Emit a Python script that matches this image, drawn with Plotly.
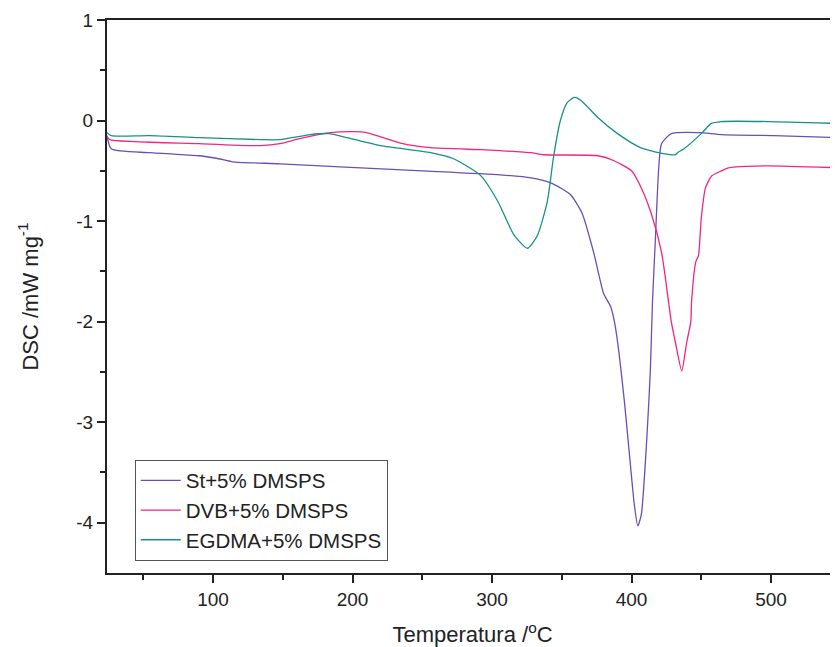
import plotly.graph_objects as go

# St+5% DMSPS
st_T = [24, 27, 54.5, 90, 95.4, 104, 114, 148, 191, 250, 306, 328, 342, 349, 356.5, 364.5, 373, 380, 385, 388,
        391, 395, 398.5, 402, 404.5, 407, 411, 413.5, 415, 417, 419.5, 421.5, 428.5, 448, 464.5, 502, 549]
st_V = [-0.15, -0.28, -0.32, -0.35, -0.36, -0.38, -0.41, -0.43, -0.46, -0.50, -0.54, -0.57, -0.62, -0.67, -0.74, -0.92, -1.32, -1.72, -1.85, -2.02,
        -2.31, -2.81, -3.32, -3.82, -4.03, -3.92, -3.15, -2.48, -1.81, -1.21, -0.47, -0.23, -0.13, -0.12, -0.14, -0.15, -0.17]

# DVB+5% DMSPS
dvb_T = [24, 26, 90, 134, 148, 162, 184, 200.5, 210, 236, 256, 292, 306, 328, 337, 376, 387.5, 400, 407, 414, 421.5,
         426.6, 428.5, 431.5, 436, 439.5, 442.5, 443, 446, 448, 450, 453, 457.5, 464.5, 469.5, 495, 549]
dvb_V = [-0.16, -0.19, -0.23, -0.25, -0.23, -0.18, -0.12, -0.11, -0.12, -0.23, -0.27, -0.29, -0.30, -0.32, -0.34, -0.35, -0.40, -0.50, -0.67, -0.92, -1.31,
         -1.81, -2.0, -2.21, -2.49, -2.21, -2.0, -1.81, -1.41, -1.34, -0.97, -0.67, -0.55, -0.50, -0.47, -0.45, -0.47]

# EGDMA+5% DMSPS
eg_T = [24, 27, 54.5, 90, 134, 148, 169.6, 183, 196, 220, 256, 272.5, 292, 304, 315.8, 325.5, 332.6, 339.7, 344, 349,
        354, 359, 363.8, 375.8, 390, 406.5, 423, 431.5, 433, 437.6, 450, 457, 464.5, 498, 549]
eg_V = [-0.12, -0.15, -0.15, -0.17, -0.19, -0.19, -0.14, -0.13, -0.17, -0.25, -0.32, -0.38, -0.55, -0.80, -1.14, -1.27, -1.14, -0.80, -0.37, 0.0,
        0.18, 0.23, 0.20, 0.03, -0.13, -0.27, -0.33, -0.34, -0.32, -0.28, -0.13, -0.03, -0.01, -0.01, -0.03]

names = ["St+5% DMSPS", "DVB+5% DMSPS", "EGDMA+5% DMSPS"]
colors = ["#6a50b4", "#f5247f", "#16918a"]

fig = go.Figure()
for T, V, n, c in [(st_T, st_V, names[0], colors[0]), (dvb_T, dvb_V, names[1], colors[1]), (eg_T, eg_V, names[2], colors[2])]:
    fig.add_trace(go.Scatter(x=T, y=V, mode="lines", name=n,
                             line=dict(color=c, width=1.3, shape="spline", smoothing=0.6)))

fam = "Liberation Sans, Arial, sans-serif"
fig.update_layout(
    width=830, height=639,
    margin=dict(l=99, r=0, t=12, b=72),
    paper_bgcolor="white", plot_bgcolor="white",
    font=dict(family=fam, size=19, color="#222"),
    showlegend=True,
    legend=dict(x=0.038, y=0.205, xanchor="left", yanchor="top",
                bordercolor="#555", borderwidth=1, bgcolor="white",
                font=dict(size=20.5, family=fam, color="#222"),
                tracegroupgap=0, itemwidth=40),
)
fig.update_xaxes(range=[24, 548], tickvals=[100, 200, 300, 400, 500], ticks="outside", ticklen=8, tickwidth=2,
                 showline=True, linewidth=2, linecolor="#222", mirror=True, showgrid=False, zeroline=False,
                 minor=dict(tickvals=[50, 150, 250, 350, 450], ticks="outside", ticklen=5, tickwidth=2, tickcolor="#222"),
                 tickcolor="#222", tickfont=dict(size=19),
                 title=dict(text="Temperatura /<sup>o</sup>C", font=dict(size=22), standoff=22))
fig.update_yaxes(range=[-4.5, 1], tickvals=[1, 0, -1, -2, -3, -4], ticktext=["1", "0", "-1", "-2", "-3", "-4"],
                 ticks="outside", ticklen=8, tickwidth=2,
                 showline=True, linewidth=2, linecolor="#222", mirror=False, showgrid=False, zeroline=False,
                 minor=dict(tickvals=[0.5, -0.5, -1.5, -2.5, -3.5], ticks="outside", ticklen=5, tickwidth=2, tickcolor="#222"),
                 tickcolor="#222", tickfont=dict(size=19),
                 title=dict(text="DSC /mW mg<sup>-1</sup>", font=dict(size=22), standoff=32))
fig.write_html("out.html")
